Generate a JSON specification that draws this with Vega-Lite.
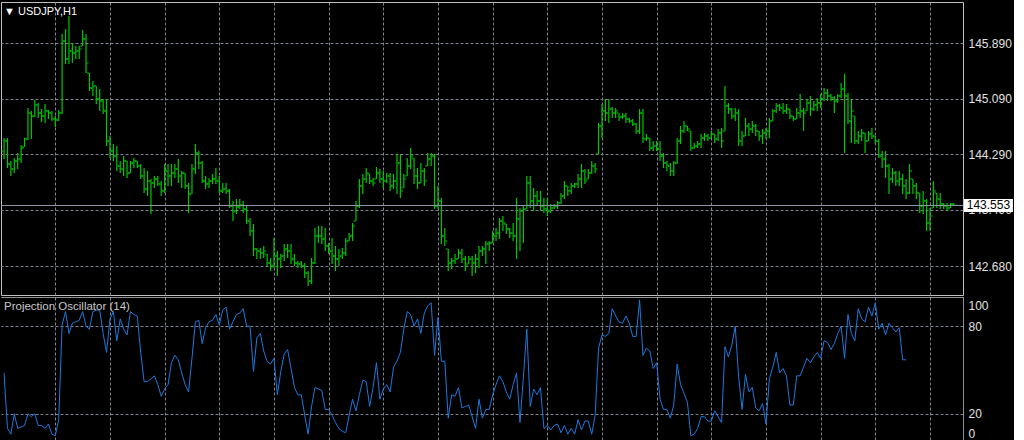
{
"$schema":"https://vega.github.io/schema/vega-lite/v6.json",
"background":"#000000",
"padding":{"left":0,"top":1,"right":0,"bottom":0},
"spacing":2,
"bounds":"flush",
"config":{
 "view":{"stroke":"#c0c0c0","strokeWidth":1,"fill":"#000000"},
 "axis":{"labelFont":"Liberation Sans","labelFontSize":12,"labelColor":"#e0e0e0","gridColor":"#7d8590","gridDash":[3,2],"gridWidth":1,"domain":false,"ticks":false,"title":null,"zindex":0},
 "title":{"font":"Liberation Sans","fontWeight":"normal","anchor":"start","frame":"group"}
},
"datasets":{
"last":[{"price":143.553}],
"osc":[{"i":0,"v":48},{"i":1,"v":10},{"i":2,"v":6},{"i":3,"v":20},{"i":4,"v":10},{"i":5,"v":11},{"i":6,"v":12},{"i":7,"v":20},{"i":8,"v":18},{"i":9,"v":20},{"i":10,"v":12},{"i":11,"v":12},{"i":12,"v":10},{"i":13,"v":13},{"i":14,"v":6},{"i":15,"v":5},{"i":16,"v":16},{"i":17,"v":81},{"i":18,"v":90},{"i":19,"v":75},{"i":20,"v":82},{"i":21,"v":83},{"i":22,"v":84},{"i":23,"v":90},{"i":24,"v":80},{"i":25,"v":78},{"i":26,"v":90},{"i":27,"v":91},{"i":28,"v":91},{"i":29,"v":75},{"i":30,"v":62},{"i":31,"v":85},{"i":32,"v":90},{"i":33,"v":70},{"i":34,"v":85},{"i":35,"v":78},{"i":36,"v":74},{"i":37,"v":90},{"i":38,"v":88},{"i":39,"v":87},{"i":40,"v":62},{"i":41,"v":42},{"i":42,"v":42},{"i":43,"v":44},{"i":44,"v":46},{"i":45,"v":40},{"i":46,"v":32},{"i":47,"v":37},{"i":48,"v":40},{"i":49,"v":55},{"i":50,"v":60},{"i":51,"v":57},{"i":52,"v":48},{"i":53,"v":40},{"i":54,"v":35},{"i":55,"v":58},{"i":56,"v":83},{"i":57,"v":84},{"i":58,"v":68},{"i":59,"v":79},{"i":60,"v":83},{"i":61,"v":84},{"i":62,"v":88},{"i":63,"v":81},{"i":64,"v":91},{"i":65,"v":93},{"i":66,"v":78},{"i":67,"v":83},{"i":68,"v":88},{"i":69,"v":89},{"i":70,"v":92},{"i":71,"v":80},{"i":72,"v":80},{"i":73,"v":49},{"i":74,"v":72},{"i":75,"v":75},{"i":76,"v":63},{"i":77,"v":56},{"i":78,"v":54},{"i":79,"v":58},{"i":80,"v":33},{"i":81,"v":49},{"i":82,"v":61},{"i":83,"v":64},{"i":84,"v":51},{"i":85,"v":38},{"i":86,"v":33},{"i":87,"v":33},{"i":88,"v":19},{"i":89,"v":6},{"i":90,"v":25},{"i":91,"v":38},{"i":92,"v":37},{"i":93,"v":36},{"i":94,"v":23},{"i":95,"v":23},{"i":96,"v":19},{"i":97,"v":14},{"i":98,"v":10},{"i":99,"v":8},{"i":100,"v":7},{"i":101,"v":19},{"i":102,"v":30},{"i":103,"v":22},{"i":104,"v":33},{"i":105,"v":43},{"i":106,"v":42},{"i":107,"v":25},{"i":108,"v":38},{"i":109,"v":55},{"i":110,"v":30},{"i":111,"v":37},{"i":112,"v":40},{"i":113,"v":35},{"i":114,"v":52},{"i":115,"v":56},{"i":116,"v":62},{"i":117,"v":78},{"i":118,"v":90},{"i":119,"v":88},{"i":120,"v":80},{"i":121,"v":85},{"i":122,"v":75},{"i":123,"v":89},{"i":124,"v":94},{"i":125,"v":96},{"i":126,"v":60},{"i":127,"v":86},{"i":128,"v":56},{"i":129,"v":56},{"i":130,"v":17},{"i":131,"v":33},{"i":132,"v":32},{"i":133,"v":38},{"i":134,"v":24},{"i":135,"v":25},{"i":136,"v":26},{"i":137,"v":18},{"i":138,"v":10},{"i":139,"v":30},{"i":140,"v":17},{"i":141,"v":23},{"i":142,"v":23},{"i":143,"v":33},{"i":144,"v":40},{"i":145,"v":46},{"i":146,"v":42},{"i":147,"v":35},{"i":148,"v":30},{"i":149,"v":40},{"i":150,"v":48},{"i":151,"v":14},{"i":152,"v":45},{"i":153,"v":78},{"i":154,"v":25},{"i":155,"v":37},{"i":156,"v":33},{"i":157,"v":38},{"i":158,"v":10},{"i":159,"v":12},{"i":160,"v":9},{"i":161,"v":12},{"i":162,"v":13},{"i":163,"v":7},{"i":164,"v":12},{"i":165,"v":6},{"i":166,"v":10},{"i":167,"v":6},{"i":168,"v":16},{"i":169,"v":9},{"i":170,"v":15},{"i":171,"v":15},{"i":172,"v":6},{"i":173,"v":19},{"i":174,"v":65},{"i":175,"v":74},{"i":176,"v":73},{"i":177,"v":75},{"i":178,"v":92},{"i":179,"v":87},{"i":180,"v":83},{"i":181,"v":82},{"i":182,"v":87},{"i":183,"v":82},{"i":184,"v":73},{"i":185,"v":73},{"i":186,"v":98},{"i":187,"v":60},{"i":188,"v":65},{"i":189,"v":63},{"i":190,"v":51},{"i":191,"v":55},{"i":192,"v":30},{"i":193,"v":23},{"i":194,"v":23},{"i":195,"v":17},{"i":196,"v":26},{"i":197,"v":54},{"i":198,"v":40},{"i":199,"v":34},{"i":200,"v":28},{"i":201,"v":5},{"i":202,"v":6},{"i":203,"v":10},{"i":204,"v":18},{"i":205,"v":18},{"i":206,"v":15},{"i":207,"v":15},{"i":208,"v":22},{"i":209,"v":18},{"i":210,"v":14},{"i":211,"v":66},{"i":212,"v":59},{"i":213,"v":67},{"i":214,"v":80},{"i":215,"v":45},{"i":216,"v":23},{"i":217,"v":47},{"i":218,"v":35},{"i":219,"v":38},{"i":220,"v":24},{"i":221,"v":22},{"i":222,"v":27},{"i":223,"v":13},{"i":224,"v":44},{"i":225,"v":52},{"i":226,"v":62},{"i":227,"v":48},{"i":228,"v":51},{"i":229,"v":46},{"i":230,"v":26},{"i":231,"v":26},{"i":232,"v":46},{"i":233,"v":46},{"i":234,"v":52},{"i":235,"v":58},{"i":236,"v":55},{"i":237,"v":59},{"i":238,"v":62},{"i":239,"v":58},{"i":240,"v":70},{"i":241,"v":69},{"i":242,"v":64},{"i":243,"v":68},{"i":244,"v":75},{"i":245,"v":80},{"i":246,"v":58},{"i":247,"v":88},{"i":248,"v":75},{"i":249,"v":70},{"i":250,"v":92},{"i":251,"v":85},{"i":252,"v":83},{"i":253,"v":93},{"i":254,"v":87},{"i":255,"v":96},{"i":256,"v":78},{"i":257,"v":82},{"i":258,"v":74},{"i":259,"v":82},{"i":260,"v":79},{"i":261,"v":76},{"i":262,"v":79},{"i":263,"v":57},{"i":264,"v":57}],
"bars":[
{"i":0,"o":144.338,"h":144.525,"l":144.223,"c":144.482},
{"i":1,"o":144.482,"h":144.525,"l":144.093,"c":144.151},
{"i":2,"o":144.151,"h":144.194,"l":143.978,"c":144.079},
{"i":3,"o":144.079,"h":144.237,"l":144.021,"c":144.194},
{"i":4,"o":144.194,"h":144.309,"l":144.079,"c":144.223},
{"i":5,"o":144.223,"h":144.425,"l":144.165,"c":144.381},
{"i":6,"o":144.396,"h":144.525,"l":144.396,"c":144.511},
{"i":7,"o":144.511,"h":144.958,"l":144.497,"c":144.886},
{"i":8,"o":144.886,"h":144.915,"l":144.511,"c":144.842},
{"i":9,"o":144.842,"h":145.073,"l":144.828,"c":145.001},
{"i":10,"o":145.001,"h":145.030,"l":144.814,"c":144.886},
{"i":11,"o":144.886,"h":144.943,"l":144.756,"c":144.842},
{"i":12,"o":144.842,"h":145.015,"l":144.742,"c":144.915},
{"i":13,"o":144.915,"h":144.929,"l":144.799,"c":144.886},
{"i":14,"o":144.886,"h":144.915,"l":144.770,"c":144.799},
{"i":15,"o":144.799,"h":144.842,"l":144.684,"c":144.785},
{"i":16,"o":144.785,"h":144.929,"l":144.770,"c":144.886},
{"i":17,"o":144.886,"h":146.024,"l":144.871,"c":145.923},
{"i":18,"o":145.923,"h":146.096,"l":145.592,"c":145.664},
{"i":19,"o":145.664,"h":146.283,"l":145.592,"c":145.779},
{"i":20,"o":145.779,"h":145.894,"l":145.606,"c":145.750},
{"i":21,"o":145.750,"h":145.851,"l":145.664,"c":145.779},
{"i":22,"o":145.779,"h":145.851,"l":145.664,"c":145.808},
{"i":23,"o":145.851,"h":146.082,"l":145.851,"c":145.952},
{"i":24,"o":145.952,"h":146.024,"l":145.462,"c":145.606},
{"i":25,"o":145.462,"h":145.462,"l":145.203,"c":145.246},
{"i":26,"o":145.246,"h":145.347,"l":145.131,"c":145.275},
{"i":27,"o":145.275,"h":145.275,"l":145.015,"c":145.087},
{"i":28,"o":145.087,"h":145.232,"l":144.915,"c":145.059},
{"i":29,"o":145.059,"h":145.087,"l":144.871,"c":144.915},
{"i":30,"o":144.915,"h":145.087,"l":144.410,"c":144.482},
{"i":31,"o":144.482,"h":144.554,"l":144.237,"c":144.338},
{"i":32,"o":144.338,"h":144.439,"l":144.194,"c":144.266},
{"i":33,"o":144.266,"h":144.410,"l":144.050,"c":144.122},
{"i":34,"o":144.122,"h":144.194,"l":144.021,"c":144.079},
{"i":35,"o":144.079,"h":144.266,"l":143.978,"c":144.194},
{"i":36,"o":144.194,"h":144.194,"l":143.949,"c":144.021},
{"i":37,"o":144.021,"h":144.194,"l":144.021,"c":144.165},
{"i":38,"o":144.165,"h":144.237,"l":144.093,"c":144.194},
{"i":39,"o":144.194,"h":144.194,"l":144.093,"c":144.122},
{"i":40,"o":144.122,"h":144.151,"l":143.935,"c":143.978},
{"i":41,"o":143.978,"h":144.093,"l":143.733,"c":143.791},
{"i":42,"o":143.791,"h":144.050,"l":143.690,"c":143.906},
{"i":43,"o":143.906,"h":143.935,"l":143.430,"c":143.877},
{"i":44,"o":143.877,"h":143.978,"l":143.805,"c":143.935},
{"i":45,"o":143.935,"h":143.978,"l":143.834,"c":143.863},
{"i":46,"o":143.863,"h":143.906,"l":143.690,"c":143.762},
{"i":47,"o":143.762,"h":144.151,"l":143.733,"c":144.050},
{"i":48,"o":144.050,"h":144.151,"l":143.834,"c":143.978},
{"i":49,"o":143.978,"h":144.151,"l":143.834,"c":144.021},
{"i":50,"o":144.021,"h":144.151,"l":143.949,"c":144.079},
{"i":51,"o":144.079,"h":144.223,"l":143.877,"c":143.978},
{"i":52,"o":143.978,"h":144.050,"l":143.805,"c":144.021},
{"i":53,"o":144.021,"h":144.021,"l":143.791,"c":143.834},
{"i":54,"o":143.834,"h":143.877,"l":143.445,"c":143.718},
{"i":55,"o":143.718,"h":144.151,"l":143.718,"c":144.079},
{"i":56,"o":144.079,"h":144.439,"l":144.007,"c":144.309},
{"i":57,"o":144.309,"h":144.338,"l":144.079,"c":144.165},
{"i":58,"o":144.165,"h":144.194,"l":143.877,"c":143.906},
{"i":59,"o":143.906,"h":143.978,"l":143.791,"c":143.863},
{"i":60,"o":143.863,"h":143.949,"l":143.805,"c":143.906},
{"i":61,"o":143.906,"h":144.007,"l":143.863,"c":143.935},
{"i":62,"o":143.935,"h":144.093,"l":143.863,"c":143.906},
{"i":63,"o":143.906,"h":143.978,"l":143.733,"c":143.762},
{"i":64,"o":143.762,"h":143.877,"l":143.733,"c":143.791},
{"i":65,"o":143.791,"h":143.877,"l":143.718,"c":143.762},
{"i":66,"o":143.762,"h":143.791,"l":143.517,"c":143.545},
{"i":67,"o":143.545,"h":143.618,"l":143.329,"c":143.473},
{"i":68,"o":143.473,"h":143.646,"l":143.430,"c":143.531},
{"i":69,"o":143.531,"h":143.646,"l":143.502,"c":143.560},
{"i":70,"o":143.560,"h":143.618,"l":143.445,"c":143.502},
{"i":71,"o":143.502,"h":143.545,"l":143.286,"c":143.329},
{"i":72,"o":143.329,"h":143.372,"l":143.113,"c":143.185},
{"i":73,"o":143.185,"h":143.286,"l":142.825,"c":142.926},
{"i":74,"o":142.926,"h":142.940,"l":142.782,"c":142.897},
{"i":75,"o":142.897,"h":142.940,"l":142.782,"c":142.868},
{"i":76,"o":142.868,"h":142.969,"l":142.796,"c":142.897},
{"i":77,"o":142.854,"h":142.854,"l":142.681,"c":142.724},
{"i":78,"o":142.724,"h":142.796,"l":142.609,"c":142.681},
{"i":79,"o":142.681,"h":143.084,"l":142.652,"c":142.825},
{"i":80,"o":142.825,"h":142.897,"l":142.537,"c":142.782},
{"i":81,"o":142.782,"h":142.854,"l":142.652,"c":142.825},
{"i":82,"o":142.825,"h":142.998,"l":142.753,"c":142.926},
{"i":83,"o":142.926,"h":142.998,"l":142.796,"c":142.897},
{"i":84,"o":142.897,"h":142.998,"l":142.710,"c":142.782},
{"i":85,"o":142.782,"h":142.854,"l":142.681,"c":142.724},
{"i":86,"o":142.724,"h":142.753,"l":142.652,"c":142.710},
{"i":87,"o":142.710,"h":142.753,"l":142.652,"c":142.681},
{"i":88,"o":142.681,"h":142.724,"l":142.508,"c":142.580},
{"i":89,"o":142.580,"h":142.609,"l":142.393,"c":142.465},
{"i":90,"o":142.465,"h":142.796,"l":142.422,"c":142.724},
{"i":91,"o":142.724,"h":143.228,"l":142.710,"c":143.113},
{"i":92,"o":143.113,"h":143.257,"l":143.012,"c":143.113},
{"i":93,"o":143.113,"h":143.257,"l":142.998,"c":143.070},
{"i":94,"o":143.070,"h":143.228,"l":142.897,"c":142.969},
{"i":95,"o":142.969,"h":143.012,"l":142.854,"c":142.897},
{"i":96,"o":142.897,"h":143.084,"l":142.710,"c":142.825},
{"i":97,"o":142.825,"h":142.969,"l":142.609,"c":142.782},
{"i":98,"o":142.782,"h":142.926,"l":142.681,"c":142.825},
{"i":99,"o":142.825,"h":142.940,"l":142.782,"c":142.868},
{"i":100,"o":142.868,"h":143.084,"l":142.825,"c":143.041},
{"i":101,"o":143.041,"h":143.156,"l":143.041,"c":143.113},
{"i":102,"o":143.113,"h":143.300,"l":143.041,"c":143.257},
{"i":103,"o":143.329,"h":143.618,"l":143.329,"c":143.545},
{"i":104,"o":143.545,"h":143.935,"l":143.517,"c":143.834},
{"i":105,"o":143.834,"h":144.007,"l":143.718,"c":143.935},
{"i":106,"o":143.935,"h":144.093,"l":143.877,"c":144.021},
{"i":107,"o":144.007,"h":144.007,"l":143.863,"c":143.906},
{"i":108,"o":143.906,"h":143.949,"l":143.834,"c":143.877},
{"i":109,"o":143.935,"h":144.108,"l":143.935,"c":144.021},
{"i":110,"o":144.021,"h":144.079,"l":143.877,"c":143.935},
{"i":111,"o":143.935,"h":144.050,"l":143.805,"c":143.906},
{"i":112,"o":143.906,"h":144.021,"l":143.877,"c":143.978},
{"i":113,"o":143.978,"h":144.021,"l":143.762,"c":143.834},
{"i":114,"o":143.834,"h":144.007,"l":143.791,"c":143.906},
{"i":115,"o":143.906,"h":144.295,"l":143.718,"c":144.165},
{"i":116,"o":144.165,"h":144.295,"l":143.661,"c":143.762},
{"i":117,"o":143.805,"h":144.007,"l":143.805,"c":143.935},
{"i":118,"o":143.978,"h":144.237,"l":143.978,"c":144.122},
{"i":119,"o":144.122,"h":144.381,"l":144.079,"c":144.266},
{"i":120,"o":144.237,"h":144.237,"l":143.863,"c":143.978},
{"i":121,"o":143.978,"h":144.093,"l":143.791,"c":143.877},
{"i":122,"o":143.877,"h":144.165,"l":143.877,"c":144.050},
{"i":123,"o":144.050,"h":144.093,"l":143.834,"c":143.906},
{"i":124,"o":144.122,"h":144.309,"l":144.122,"c":144.223},
{"i":125,"o":144.223,"h":144.309,"l":144.122,"c":144.266},
{"i":126,"o":144.266,"h":144.295,"l":143.502,"c":143.545},
{"i":127,"o":143.545,"h":143.834,"l":143.502,"c":143.618},
{"i":128,"o":143.618,"h":143.661,"l":142.998,"c":143.113},
{"i":129,"o":143.113,"h":143.228,"l":142.969,"c":143.041},
{"i":130,"o":142.926,"h":142.926,"l":142.609,"c":142.724},
{"i":131,"o":142.724,"h":142.796,"l":142.638,"c":142.753},
{"i":132,"o":142.753,"h":142.854,"l":142.710,"c":142.782},
{"i":133,"o":142.782,"h":142.926,"l":142.782,"c":142.868},
{"i":134,"o":142.868,"h":142.926,"l":142.724,"c":142.782},
{"i":135,"o":142.782,"h":142.825,"l":142.609,"c":142.681},
{"i":136,"o":142.710,"h":142.825,"l":142.710,"c":142.782},
{"i":137,"o":142.782,"h":142.825,"l":142.537,"c":142.724},
{"i":138,"o":142.724,"h":142.854,"l":142.580,"c":142.782},
{"i":139,"o":142.782,"h":142.969,"l":142.652,"c":142.897},
{"i":140,"o":142.897,"h":142.969,"l":142.825,"c":142.926},
{"i":141,"o":142.926,"h":143.041,"l":142.710,"c":142.998},
{"i":142,"o":142.998,"h":143.041,"l":142.897,"c":143.012},
{"i":143,"o":143.012,"h":143.185,"l":143.012,"c":143.113},
{"i":144,"o":143.113,"h":143.228,"l":143.041,"c":143.156},
{"i":145,"o":143.156,"h":143.372,"l":143.070,"c":143.329},
{"i":146,"o":143.329,"h":143.401,"l":143.185,"c":143.300},
{"i":147,"o":143.286,"h":143.286,"l":143.142,"c":143.214},
{"i":148,"o":143.214,"h":143.228,"l":143.084,"c":143.156},
{"i":149,"o":143.156,"h":143.300,"l":143.041,"c":143.113},
{"i":150,"o":143.113,"h":143.661,"l":142.782,"c":143.358},
{"i":151,"o":143.358,"h":143.517,"l":142.897,"c":143.473},
{"i":152,"o":143.473,"h":143.545,"l":143.012,"c":143.502},
{"i":153,"o":143.502,"h":143.978,"l":143.502,"c":143.877},
{"i":154,"o":143.877,"h":143.978,"l":143.517,"c":143.618},
{"i":155,"o":143.618,"h":143.805,"l":143.473,"c":143.690},
{"i":156,"o":143.690,"h":143.762,"l":143.545,"c":143.618},
{"i":157,"o":143.618,"h":143.762,"l":143.473,"c":143.545},
{"i":158,"o":143.545,"h":143.661,"l":143.445,"c":143.502},
{"i":159,"o":143.502,"h":143.661,"l":143.401,"c":143.473},
{"i":160,"o":143.473,"h":143.574,"l":143.445,"c":143.517},
{"i":161,"o":143.517,"h":143.574,"l":143.502,"c":143.545},
{"i":162,"o":143.545,"h":143.618,"l":143.502,"c":143.589},
{"i":163,"o":143.589,"h":143.733,"l":143.574,"c":143.690},
{"i":164,"o":143.690,"h":143.906,"l":143.646,"c":143.834},
{"i":165,"o":143.834,"h":143.834,"l":143.690,"c":143.762},
{"i":166,"o":143.762,"h":143.877,"l":143.718,"c":143.834},
{"i":167,"o":143.834,"h":143.877,"l":143.805,"c":143.863},
{"i":168,"o":143.863,"h":144.007,"l":143.805,"c":143.935},
{"i":169,"o":143.935,"h":144.151,"l":143.805,"c":144.050},
{"i":170,"o":144.050,"h":144.079,"l":143.863,"c":143.906},
{"i":171,"o":143.935,"h":144.079,"l":143.935,"c":144.021},
{"i":172,"o":144.021,"h":144.194,"l":144.007,"c":144.122},
{"i":173,"o":144.122,"h":144.165,"l":144.021,"c":144.079},
{"i":174,"o":144.295,"h":144.742,"l":144.295,"c":144.698},
{"i":175,"o":144.698,"h":145.015,"l":144.525,"c":144.915},
{"i":176,"o":144.915,"h":145.087,"l":144.770,"c":144.886},
{"i":177,"o":144.886,"h":145.087,"l":144.742,"c":144.943},
{"i":178,"o":144.943,"h":144.972,"l":144.814,"c":144.886},
{"i":179,"o":144.886,"h":144.958,"l":144.814,"c":144.915},
{"i":180,"o":144.886,"h":144.886,"l":144.770,"c":144.828},
{"i":181,"o":144.828,"h":144.886,"l":144.799,"c":144.842},
{"i":182,"o":144.842,"h":144.886,"l":144.742,"c":144.799},
{"i":183,"o":144.799,"h":144.814,"l":144.742,"c":144.770},
{"i":184,"o":144.770,"h":144.799,"l":144.698,"c":144.727},
{"i":185,"o":144.727,"h":144.742,"l":144.583,"c":144.626},
{"i":186,"o":144.626,"h":144.943,"l":144.583,"c":144.886},
{"i":187,"o":144.886,"h":144.943,"l":144.453,"c":144.511},
{"i":188,"o":144.511,"h":144.583,"l":144.482,"c":144.525},
{"i":189,"o":144.525,"h":144.525,"l":144.338,"c":144.381},
{"i":190,"o":144.381,"h":144.482,"l":144.338,"c":144.410},
{"i":191,"o":144.410,"h":144.482,"l":144.338,"c":144.367},
{"i":192,"o":144.367,"h":144.482,"l":144.194,"c":144.266},
{"i":193,"o":144.266,"h":144.309,"l":144.093,"c":144.165},
{"i":194,"o":144.165,"h":144.194,"l":144.050,"c":144.122},
{"i":195,"o":144.122,"h":144.165,"l":143.978,"c":144.050},
{"i":196,"o":144.050,"h":144.194,"l":143.978,"c":144.165},
{"i":197,"o":144.165,"h":144.525,"l":144.151,"c":144.482},
{"i":198,"o":144.482,"h":144.698,"l":144.439,"c":144.626},
{"i":199,"o":144.626,"h":144.770,"l":144.598,"c":144.698},
{"i":200,"o":144.698,"h":144.698,"l":144.626,"c":144.655},
{"i":201,"o":144.626,"h":144.626,"l":144.338,"c":144.381},
{"i":202,"o":144.381,"h":144.453,"l":144.367,"c":144.410},
{"i":203,"o":144.410,"h":144.482,"l":144.381,"c":144.439},
{"i":204,"o":144.439,"h":144.583,"l":144.381,"c":144.525},
{"i":205,"o":144.525,"h":144.598,"l":144.482,"c":144.554},
{"i":206,"o":144.554,"h":144.583,"l":144.482,"c":144.525},
{"i":207,"o":144.525,"h":144.626,"l":144.525,"c":144.583},
{"i":208,"o":144.583,"h":144.583,"l":144.453,"c":144.511},
{"i":209,"o":144.511,"h":144.655,"l":144.482,"c":144.598},
{"i":210,"o":144.598,"h":144.670,"l":144.381,"c":144.482},
{"i":211,"o":144.626,"h":145.275,"l":144.626,"c":144.987},
{"i":212,"o":144.987,"h":145.030,"l":144.871,"c":144.943},
{"i":213,"o":144.943,"h":144.958,"l":144.799,"c":144.842},
{"i":214,"o":144.842,"h":144.958,"l":144.770,"c":144.886},
{"i":215,"o":144.886,"h":144.943,"l":144.410,"c":144.482},
{"i":216,"o":144.482,"h":144.626,"l":144.410,"c":144.554},
{"i":217,"o":144.554,"h":144.814,"l":144.554,"c":144.698},
{"i":218,"o":144.698,"h":144.742,"l":144.554,"c":144.655},
{"i":219,"o":144.655,"h":144.770,"l":144.598,"c":144.698},
{"i":220,"o":144.698,"h":144.727,"l":144.554,"c":144.626},
{"i":221,"o":144.626,"h":144.626,"l":144.482,"c":144.554},
{"i":222,"o":144.554,"h":144.655,"l":144.439,"c":144.598},
{"i":223,"o":144.598,"h":144.670,"l":144.511,"c":144.626},
{"i":224,"o":144.626,"h":144.814,"l":144.525,"c":144.770},
{"i":225,"o":144.770,"h":144.943,"l":144.770,"c":144.915},
{"i":226,"o":144.915,"h":145.030,"l":144.886,"c":144.987},
{"i":227,"o":144.987,"h":145.015,"l":144.915,"c":144.958},
{"i":228,"o":144.958,"h":145.030,"l":144.871,"c":144.915},
{"i":229,"o":144.915,"h":145.015,"l":144.871,"c":144.943},
{"i":230,"o":144.943,"h":144.943,"l":144.799,"c":144.842},
{"i":231,"o":144.842,"h":144.842,"l":144.770,"c":144.799},
{"i":232,"o":144.799,"h":144.958,"l":144.799,"c":144.886},
{"i":233,"o":144.886,"h":145.159,"l":144.814,"c":144.915},
{"i":234,"o":144.915,"h":144.958,"l":144.626,"c":144.886},
{"i":235,"o":144.915,"h":145.087,"l":144.915,"c":145.030},
{"i":236,"o":145.030,"h":145.131,"l":144.842,"c":144.943},
{"i":237,"o":144.943,"h":145.059,"l":144.915,"c":145.001},
{"i":238,"o":145.001,"h":145.102,"l":144.915,"c":145.030},
{"i":239,"o":145.030,"h":145.159,"l":144.958,"c":145.087},
{"i":240,"o":145.087,"h":145.246,"l":145.059,"c":145.174},
{"i":241,"o":145.174,"h":145.232,"l":145.059,"c":145.131},
{"i":242,"o":145.131,"h":145.159,"l":145.059,"c":145.102},
{"i":243,"o":145.102,"h":145.131,"l":144.886,"c":145.059},
{"i":244,"o":145.059,"h":145.159,"l":145.030,"c":145.131},
{"i":245,"o":145.131,"h":145.318,"l":145.102,"c":145.232},
{"i":246,"o":145.232,"h":145.448,"l":144.309,"c":145.131},
{"i":247,"o":145.131,"h":145.174,"l":144.727,"c":144.770},
{"i":248,"o":144.770,"h":145.087,"l":144.453,"c":144.915},
{"i":249,"o":144.842,"h":144.842,"l":144.439,"c":144.482},
{"i":250,"o":144.482,"h":144.626,"l":144.439,"c":144.554},
{"i":251,"o":144.554,"h":144.655,"l":144.482,"c":144.598},
{"i":252,"o":144.598,"h":144.598,"l":144.309,"c":144.482},
{"i":253,"o":144.482,"h":144.626,"l":144.482,"c":144.583},
{"i":254,"o":144.583,"h":144.670,"l":144.511,"c":144.554},
{"i":255,"o":144.554,"h":144.554,"l":144.439,"c":144.482},
{"i":256,"o":144.482,"h":144.511,"l":144.237,"c":144.266},
{"i":257,"o":144.266,"h":144.338,"l":144.093,"c":144.223},
{"i":258,"o":144.223,"h":144.338,"l":143.949,"c":144.122},
{"i":259,"o":144.122,"h":144.151,"l":143.718,"c":143.935},
{"i":260,"o":143.935,"h":144.093,"l":143.877,"c":144.021},
{"i":261,"o":144.021,"h":144.050,"l":143.834,"c":143.906},
{"i":262,"o":143.906,"h":144.050,"l":143.834,"c":143.935},
{"i":263,"o":143.935,"h":144.007,"l":143.718,"c":143.834},
{"i":264,"o":143.834,"h":143.935,"l":143.646,"c":143.733},
{"i":265,"o":143.733,"h":144.151,"l":143.718,"c":144.050},
{"i":266,"o":143.935,"h":143.935,"l":143.718,"c":143.834},
{"i":267,"o":143.834,"h":143.877,"l":143.646,"c":143.733},
{"i":268,"o":143.733,"h":143.733,"l":143.445,"c":143.545},
{"i":269,"o":143.545,"h":143.762,"l":143.430,"c":143.618},
{"i":270,"o":143.618,"h":143.646,"l":143.185,"c":143.300},
{"i":271,"o":143.300,"h":143.517,"l":143.185,"c":143.401},
{"i":272,"o":143.517,"h":143.906,"l":143.517,"c":143.762},
{"i":273,"o":143.733,"h":143.733,"l":143.517,"c":143.646},
{"i":274,"o":143.646,"h":143.733,"l":143.502,"c":143.574},
{"i":275,"o":143.574,"h":143.589,"l":143.502,"c":143.545},
{"i":276,"o":143.545,"h":143.589,"l":143.473,"c":143.517},
{"i":277,"o":143.517,"h":143.589,"l":143.517,"c":143.574},
{"i":278,"o":143.574,"h":143.589,"l":143.545,"c":143.553}
]},
"vconcat":[
{
 "width":962,"height":293,
 "title":{"text":"▼ USDJPY,H1","color":"#ffffff","fontSize":11,"offset":-15,"dx":3},
 "layer":[
  {"data":{"name":"bars"},"mark":{"type":"rule","color":"#00c800","strokeWidth":1.2},
   "encoding":{
    "x":{"field":"i","type":"quantitative","scale":{"domain":[-0.89,280.66],"nice":false,"zero":false},
         "axis":{"orient":"bottom","values":[15,31,47,63,79,95,111,127,143,159,175,191,207,223,239,255,271],"labels":false,"grid":true}},
    "y":{"field":"h","type":"quantitative","scale":{"domain":[142.263,146.485],"nice":false,"zero":false},
         "axis":{"orient":"right","values":[142.68,143.49,144.29,145.09,145.89],"format":".3f","labelPadding":5,"grid":true}},
    "y2":{"field":"l"}}},
  {"data":{"name":"bars"},"mark":{"type":"tick","orient":"horizontal","color":"#00c800","size":2,"thickness":1,"xOffset":-1.5,"opacity":1},
   "encoding":{"x":{"field":"i","type":"quantitative","scale":{"domain":[-0.89,280.66],"nice":false,"zero":false}},
               "y":{"field":"o","type":"quantitative","scale":{"domain":[142.263,146.485],"nice":false,"zero":false}}}},
  {"data":{"name":"bars"},"mark":{"type":"tick","orient":"horizontal","color":"#00c800","size":2,"thickness":1,"xOffset":1.5,"opacity":1},
   "encoding":{"x":{"field":"i","type":"quantitative","scale":{"domain":[-0.89,280.66],"nice":false,"zero":false}},
               "y":{"field":"c","type":"quantitative","scale":{"domain":[142.263,146.485],"nice":false,"zero":false}}}},
  {"data":{"name":"last"},"mark":{"type":"rule","color":"#8f9aa6","strokeWidth":1},
   "encoding":{"y":{"field":"price","type":"quantitative","scale":{"domain":[142.263,146.485],"nice":false,"zero":false}}}},
  {"data":{"name":"last"},"mark":{"type":"point","shape":"M-1,-0.265H1V0.265H-1Z","filled":true,"color":"#ffffff","size":2401,"opacity":1,"strokeWidth":0},
   "encoding":{"x":{"datum":288.1,"type":"quantitative"},
               "y":{"field":"price","type":"quantitative","scale":{"domain":[142.263,146.485],"nice":false,"zero":false}}}},
  {"data":{"name":"last"},"mark":{"type":"text","color":"#000000","font":"Liberation Sans","fontSize":12,"align":"center","baseline":"middle"},
   "encoding":{"x":{"datum":288.1,"type":"quantitative"},
               "y":{"field":"price","type":"quantitative","scale":{"domain":[142.263,146.485],"nice":false,"zero":false}},
               "text":{"field":"price","type":"quantitative","format":".3f"}}}
 ]
},
{
 "width":962,"height":143,
 "view":{"stroke":null},
 "title":{"text":"Projection Oscillator (14)","color":"#c8c8c8","fontSize":11.5,"offset":-15,"dx":3},
 "data":{"name":"osc"},
 "mark":{"type":"line","color":"#1e78dc","strokeWidth":1,"clip":true},
 "encoding":{
  "x":{"field":"i","type":"quantitative","scale":{"domain":[-0.89,280.66],"nice":false,"zero":false},
       "axis":{"orient":"bottom","values":[15,31,47,63,79,95,111,127,143,159,175,191,207,223,239,255,271,280.66],"labels":false,"grid":true,
               "gridDash":{"condition":{"test":"datum.value > 280","value":[1,0]},"value":[3,2]},
               "gridColor":{"condition":{"test":"datum.value > 280","value":"#c0c0c0"},"value":"#7d8590"}}},
  "y":{"field":"v","type":"quantitative","scale":{"domain":[2.05,100],"nice":false,"zero":false},
       "axis":{"orient":"right","values":[2.05,20,80,100],"format":"d","labelExpr":"datum.value < 5 ? '0' : datum.label","labelPadding":5,"grid":true,
               "gridDash":{"condition":{"test":"datum.value === 100","value":[1,0]},"value":[3,2]},
               "gridColor":{"condition":{"test":"datum.value === 100","value":"#c0c0c0"},"value":"#7d8590"},
               "gridOpacity":{"condition":{"test":"datum.value < 5","value":0},"value":1},
               "labelOffset":{"condition":{"test":"datum.value === 100","value":8},"value":0},
               "labelBaseline":{"condition":{"test":"datum.value < 5","value":"bottom"},"value":"middle"}}}
 }
}
]
}
